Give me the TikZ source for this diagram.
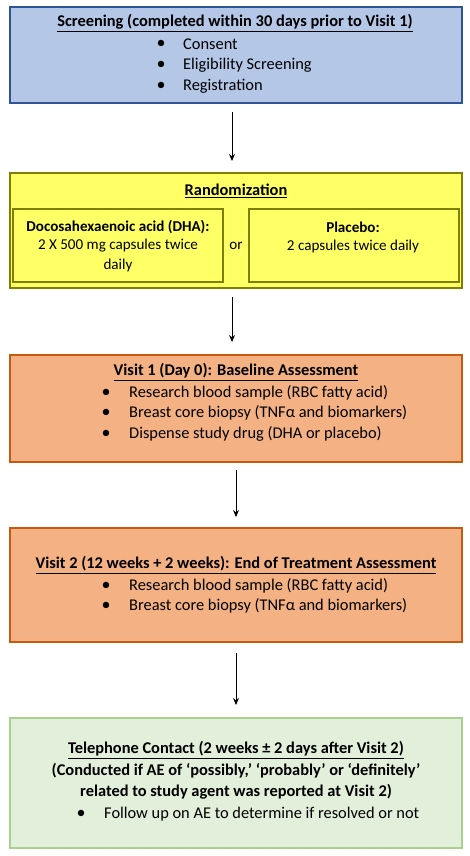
\documentclass[tikz,border=0pt]{standalone}
\usepackage{fontspec}
\setmainfont{Carlito}
\usetikzlibrary{arrows.meta}
\definecolor{bfill}{HTML}{B4C7E7}
\definecolor{bdraw}{HTML}{2F5597}
\definecolor{yfill}{HTML}{FFFF66}
\definecolor{ydraw}{HTML}{808000}
\definecolor{ofill}{HTML}{F4B183}
\definecolor{odraw}{HTML}{C55A11}
\definecolor{gfill}{HTML}{E2EFDA}
\definecolor{gdraw}{HTML}{A9D18E}
\tikzset{
  box/.style={line width=2pt},
  txt/.style={inner sep=0pt, font=\fontsize{16.4}{19}\selectfont},
  ttl/.style={txt, font=\fontsize{16.4}{19}\selectfont\bfseries},
  stxt/.style={inner sep=0pt, font=\fontsize{15.1}{18}\selectfont},
  sttl/.style={inner sep=0pt, font=\fontsize{15.1}{18}\selectfont\bfseries},
  bul/.style={inner sep=0pt, font=\fontsize{18}{19}\selectfont},
  arr/.style={-{Stealth[length=7pt,width=6pt]}, line width=0.9pt},
}
\newcommand{\ul}[1]{\underline{#1}}
\begin{document}
\begin{tikzpicture}[x=1pt,y=-1pt]
\useasboundingbox (0,0) rectangle (469,856);
% Box 1
\path[box, fill=bfill, draw=bdraw] (10,7) rectangle (462,103);
\node[ttl] (t1) at (235,23) {\ul{Screening (completed within 30 days prior to Visit 1)}};
\node[bul] (d11) at (161,44) {•};
\node[txt, anchor=west] (s11) at (183,44) {Consent};
\node[bul] (d12) at (161,65) {•};
\node[txt, anchor=west] (s12) at (183,65) {Eligibility Screening};
\node[bul] (d13) at (161,86) {•};
\node[txt, anchor=west] (s13) at (183,86) {Registration};
\coordinate (a1s) at (232,112);
\coordinate (a1e) at (232,161);
\draw[arr] (a1s) -- (a1e);
% Box 2
\path[box, fill=yfill, draw=ydraw] (10,173) rectangle (462,288);
\node[ttl] (t2) at (236,191) {\ul{Randomization}};
\path[box, draw=ydraw] (13,209) rectangle (223,282);
\path[box, draw=ydraw] (249,209) rectangle (459,282);
\node[sttl] (dha) at (118,227) {Docosahexaenoic acid (DHA):};
\node[stxt] (dha2) at (118,246) {2 X 500 mg capsules twice};
\node[stxt] (dha3) at (118,265) {daily};
\node[stxt] (or) at (236,246) {or};
\node[sttl] (pl) at (353,227) {Placebo:};
\node[stxt] (pl2) at (353,246) {2 capsules twice daily};
\coordinate (a2s) at (232,297);
\coordinate (a2e) at (232,342);
\draw[arr] (a2s) -- (a2e);
% Box 3
\path[box, fill=ofill, draw=odraw] (10,355) rectangle (462,462);
\node[ttl] (t3) at (236,372) {\ul{Visit 1 (Day 0): Baseline Assessment}};
\node[bul] (d31) at (106,393) {•};
\node[txt, anchor=west] (s31) at (129,393) {Research blood sample (RBC fatty acid)};
\node[bul] (d32) at (106,413) {•};
\node[txt, anchor=west] (s32) at (129,413) {Breast core biopsy (TNFα and biomarkers)};
\node[bul] (d33) at (106,434) {•};
\node[txt, anchor=west] (s33) at (129,434) {Dispense study drug (DHA or placebo)};
\coordinate (a3s) at (236,470);
\coordinate (a3e) at (236,517);
\draw[arr] (a3s) -- (a3e);
% Box 4
\path[box, fill=ofill, draw=odraw] (10,528) rectangle (462,642);
\node[ttl] (t4) at (236,565) {\ul{Visit 2 (12 weeks + 2 weeks): End of Treatment Assessment}};
\node[bul] (d41) at (106,586) {•};
\node[txt, anchor=west] (s41) at (129,586) {Research blood sample (RBC fatty acid)};
\node[bul] (d42) at (106,606) {•};
\node[txt, anchor=west] (s42) at (129,606) {Breast core biopsy (TNFα and biomarkers)};
\coordinate (a4s) at (236,653);
\coordinate (a4e) at (236,705);
\draw[arr] (a4s) -- (a4e);
% Box 5
\path[box, fill=gfill, draw=gdraw] (10,718) rectangle (462,848);
\node[ttl] (t5) at (236,750) {\ul{Telephone Contact (2 weeks ± 2 days after Visit 2)}};
\node[ttl] (t52) at (236,771) {(Conducted if AE of ‘possibly,’ ‘probably’ or ‘definitely’};
\node[ttl] (t53) at (236,792) {related to study agent was reported at Visit 2)};
\node[bul] (d51) at (81,814) {•};
\node[txt, anchor=west] (s51) at (104,814) {Follow up on AE to determine if resolved or not};
\end{tikzpicture}
\end{document}
